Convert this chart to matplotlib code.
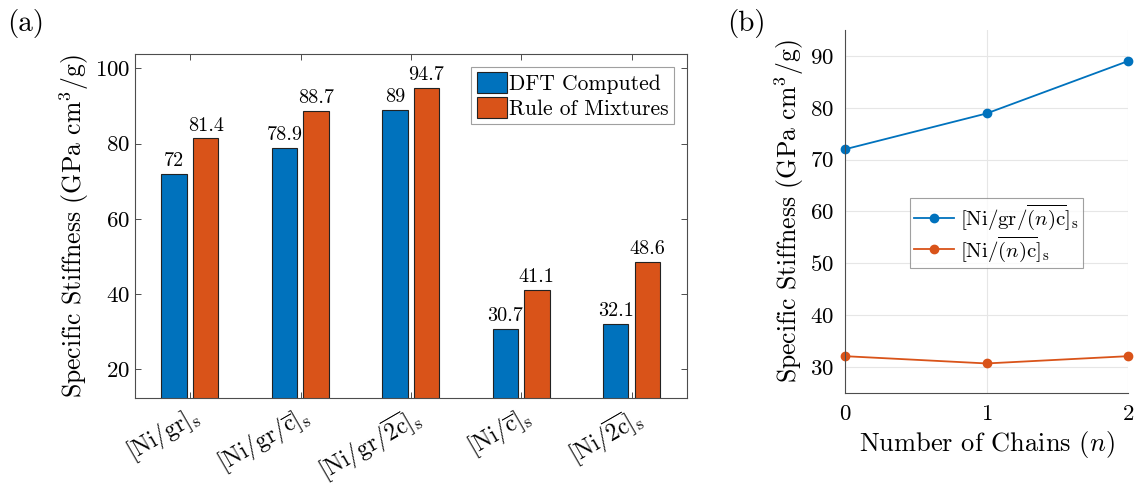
import numpy as np
import matplotlib
matplotlib.use("Agg")
import matplotlib.pyplot as plt

plt.rcParams['font.family'] = 'serif'
plt.rcParams['font.serif'] = ['cmr10', 'DejaVu Serif']
plt.rcParams['mathtext.fontset'] = 'cm'
plt.rcParams['axes.unicode_minus'] = False
plt.rcParams['axes.formatter.use_mathtext'] = True

# ---------------- data ----------------
materiales = [r'$[\mathrm{Ni/gr}]_\mathrm{s}$',
              r'$[\mathrm{Ni/gr}/\overline{\mathrm{c}}]_\mathrm{s}$',
              r'$[\mathrm{Ni/gr}/\overline{2\mathrm{c}}]_\mathrm{s}$',
              r'$[\mathrm{Ni}/\overline{\mathrm{c}}]_\mathrm{s}$',
              r'$[\mathrm{Ni}/\overline{2\mathrm{c}}]_\mathrm{s}$']
dft = [72, 78.9, 89, 30.7, 32.1]
mezcla = [81.4, 88.7, 94.7, 41.1, 48.6]

cadenas = [0, 1, 2]
ni_gr_nc = [72, 78.9, 89]
ni_nc = [32.1, 30.7, 32.1]

azul = '#0072BD'
naranja = '#D95319'
gris = '#4d4d4d'

fig = plt.figure(figsize=(11.35, 4.87), dpi=100)
W, H = 1135., 487.

# ---------------- (a) barras ----------------
ax1 = fig.add_axes([135/W, 1-398/H, (687-135)/W, (398-54)/H])
x = np.arange(1, len(dft)+1)
ancho = 0.23
ax1.bar(x-0.145, dft, ancho, color=azul, edgecolor='#222222', linewidth=0.8,
        label='DFT Computed')
ax1.bar(x+0.14, mezcla, ancho, color=naranja, edgecolor='#222222', linewidth=0.8,
        label='Rule of Mixtures')
for xi, v in zip(x-0.145, dft):
    ax1.text(xi, v+1.0, '%g' % v, ha='center', va='bottom', fontsize=14.5)
for xi, v in zip(x+0.14, mezcla):
    ax1.text(xi, v+1.0, '%g' % v, ha='center', va='bottom', fontsize=14.5)
ax1.set_xlim(0.5, 5.5)
ax1.set_ylim(12.4, 103.8)
ax1.set_xticks(x)
ax1.set_xticklabels(materiales, rotation=30, ha='right', rotation_mode='anchor', fontsize=17)
ax1.set_yticks([20, 40, 60, 80, 100])
ax1.tick_params(axis='y', labelsize=16.5)
ax1.tick_params(axis='x', pad=3)
ax1.tick_params(direction='in', top=True, right=True, length=4, color=gris, width=0.7)
for s in ax1.spines.values():
    s.set_color(gris)
    s.set_linewidth(0.8)
ax1.set_ylabel(r'Specific Stiffness (GPa cm$^3$/g)', fontsize=18.5, labelpad=3)
leg = ax1.legend(loc='upper right', fontsize=15.5, handlelength=1.4, handleheight=1.1,
                 handletextpad=0.1, borderpad=0.25, labelspacing=0.15, fancybox=False,
                 borderaxespad=0.6)
leg.get_frame().set_edgecolor('#888888')
leg.get_frame().set_linewidth(0.8)
fig.text(7/W, 1-23/H, '(a)', fontsize=21, va='center')

# ---------------- (b) lineas ----------------
ax2 = fig.add_axes([845/W, 1-393/H, (1128-845)/W, (393-30)/H])
ax2.plot(cadenas, ni_gr_nc, '-o', color=azul, lw=1.3, ms=6,
         label=r'$[\mathrm{Ni/gr}/\overline{(n)\mathrm{c}}]_\mathrm{s}$')
ax2.plot(cadenas, ni_nc, '-o', color=naranja, lw=1.3, ms=6,
         label=r'$[\mathrm{Ni}/\overline{(n)\mathrm{c}}]_\mathrm{s}$')
ax2.set_xlim(0, 2)
ax2.set_ylim(25, 95)
ax2.set_xticks(cadenas)
ax2.set_yticks([30, 40, 50, 60, 70, 80, 90])
ax2.grid(True, color='#e6e6e6', lw=0.8)
ax2.set_axisbelow(True)
ax2.tick_params(labelsize=16.5, length=0, pad=8)
ax2.spines['top'].set_visible(False)
ax2.spines['right'].set_visible(False)
for s in ('left', 'bottom'):
    ax2.spines[s].set_color(gris)
    ax2.spines[s].set_linewidth(0.8)
for a in ax2.get_lines():
    a.set_clip_on(False)
ax2.set_xlabel(r'Number of Chains ($n$)', fontsize=19, labelpad=4)
ax2.set_ylabel(r'Specific Stiffness (GPa cm$^3$/g)', fontsize=18.5, labelpad=3)
leg2 = ax2.legend(loc='center right', bbox_to_anchor=(0.84, 0.44), fontsize=15,
                  handlelength=1.9, handletextpad=0.3, borderpad=0.2, labelspacing=0.1,
                  fancybox=False, borderaxespad=0)
leg2.get_frame().set_edgecolor('#888888')
leg2.get_frame().set_linewidth(0.8)
fig.text(727/W, 1-23/H, '(b)', fontsize=21, va='center')

fig.savefig('out.png', dpi=100)
